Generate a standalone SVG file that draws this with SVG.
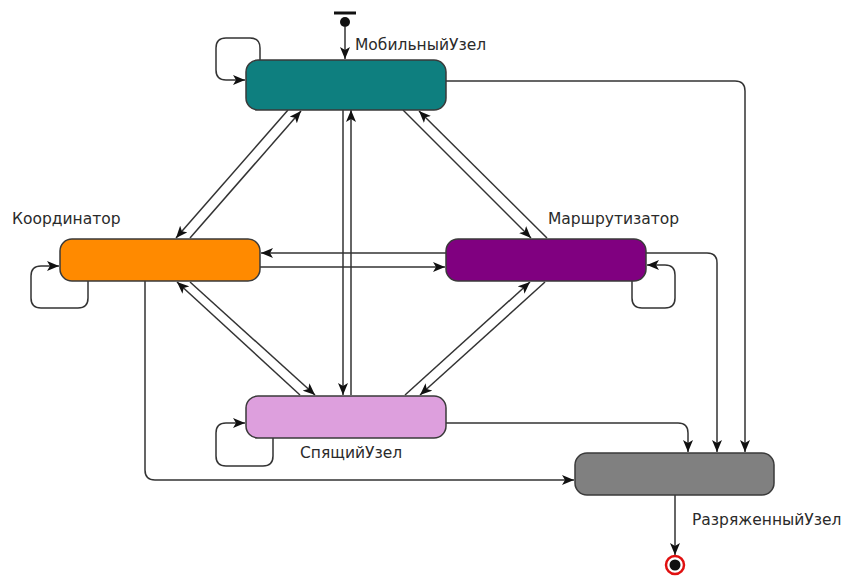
<svg xmlns="http://www.w3.org/2000/svg" width="848" height="581" viewBox="0 0 848 581">
<style>
.node{stroke:#3a3a3a;stroke-width:1.5}
.c{fill:none;stroke:#333;stroke-width:1.5;marker-end:url(#ah)}
.lbl{font-family:"DejaVu Sans",sans-serif;font-size:15.5px;fill:#2a2a2a}
</style>
<defs>
<marker id="ah" markerUnits="userSpaceOnUse" markerWidth="14" markerHeight="10" refX="12" refY="5" orient="auto">
<path d="M0,0 L12,5 L0,10 L3,5 z" fill="#111"/>
</marker>
</defs>
<rect width="848" height="581" fill="#fff"/>
<g id="connectors">
<path class="c" d="M345,27 V59"/>
<path class="c" d="M446,81 H735 Q745,81 745,91 V452"/>
<path class="c" d="M646,253 H707 Q717,253 717,263 V452"/>
<path class="c" d="M446,423 H678 Q688,423 688,433 V452"/>
<path class="c" d="M145,281 V470 Q145,480 155,480 H574"/>
<path class="c" d="M675,495 V555"/>
<path class="c" d="M260,60 V48 Q260,38 250,38 H226 Q216,38 216,48 V70 Q216,80 226,80 H245"/>
<path class="c" d="M88,281 V298 Q88,308 78,308 H41 Q31,308 31,298 V276 Q31,266 41,266 H59"/>
<path class="c" d="M632,281 V298 Q632,308 642,308 H665 Q675,308 675,298 V275 Q675,265 665,265 H647"/>
<path class="c" d="M273,438 V456 Q273,466 263,466 H226 Q216,466 216,456 V433 Q216,423 226,423 H245"/>
<path class="c" d="M288,110 L176,238"/>
<path class="c" d="M190,238 L301,111"/>
<path class="c" d="M403,110 L531,238"/>
<path class="c" d="M547,238 L419,111"/>
<path class="c" d="M300,395 L177,282"/>
<path class="c" d="M190,282 L315,395"/>
<path class="c" d="M405,395 L530,282"/>
<path class="c" d="M545,282 L420,395"/>
<path class="c" d="M343,110 V395"/>
<path class="c" d="M351,395 V110"/>
<path class="c" d="M446,253 H261"/>
<path class="c" d="M260,267 H445"/>
</g>
<g id="initial">
<line x1="334" y1="13" x2="356" y2="13" stroke="#111" stroke-width="3"/>
<circle cx="345" cy="22" r="5" fill="#111"/>
</g>
<g id="mobile">
<rect class="node" x="246" y="60" width="200" height="50" rx="12" fill="#0e7f7f"/>
<text class="lbl" x="355" y="50">МобильныйУзел</text>
</g>
<g id="coordinator">
<rect class="node" x="60" y="239" width="200" height="42" rx="12" fill="#ff8a00"/>
<text class="lbl" x="12" y="224">Координатор</text>
</g>
<g id="router">
<rect class="node" x="446" y="239" width="200" height="42" rx="12" fill="#800080"/>
<text class="lbl" x="548" y="224">Маршрутизатор</text>
</g>
<g id="sleep">
<rect class="node" x="246" y="396" width="200" height="42" rx="12" fill="#dd9fdd"/>
<text class="lbl" x="300" y="458">СпящийУзел</text>
</g>
<g id="discharged">
<rect class="node" x="575" y="453" width="199" height="42" rx="12" fill="#808080"/>
<text class="lbl" x="692" y="525">РазряженныйУзел</text>
</g>
<g id="final">
<circle cx="675" cy="565" r="9" fill="#fff" stroke="#e01010" stroke-width="2.5"/>
<circle cx="675" cy="565" r="5.5" fill="#111"/>
</g>
</svg>
